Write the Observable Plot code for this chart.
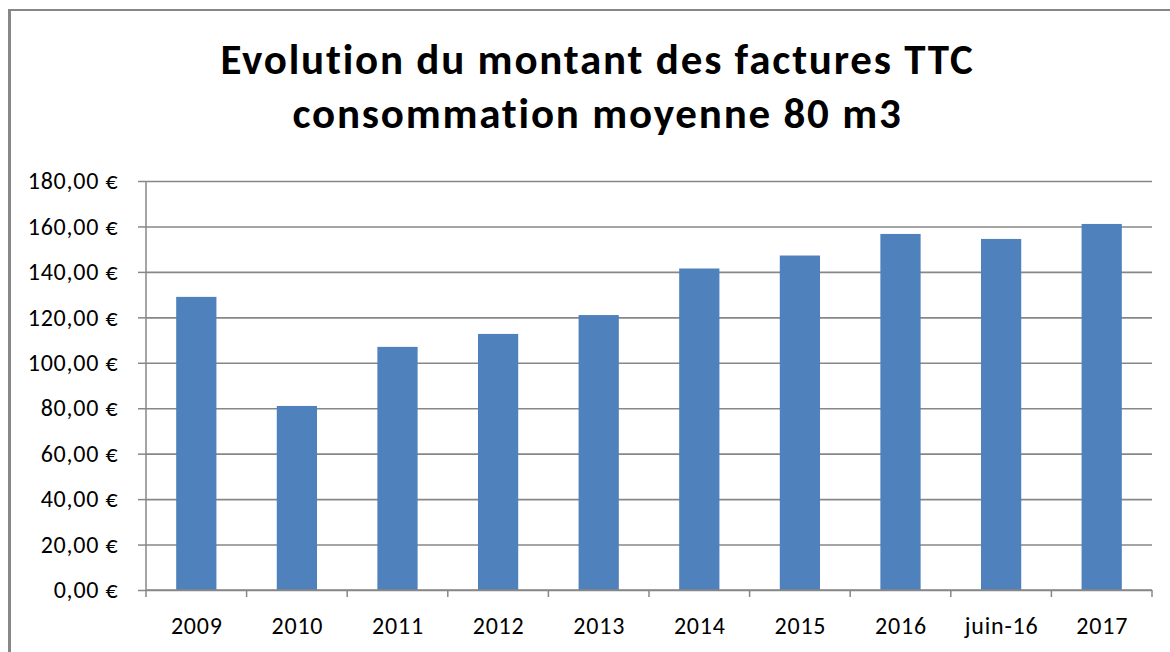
<!DOCTYPE html>
<html>
<head>
<meta charset="utf-8">
<script src="https://cdn.jsdelivr.net/npm/d3@7"></script>
<script src="https://cdn.jsdelivr.net/npm/@observablehq/plot@0.6"></script>
<style>
  html, body { margin: 0; padding: 0; background: #fff; }
  #wrap { position: relative; width: 1170px; height: 652px; overflow: hidden; }
  #frame { position: absolute; left: 8px; top: 9px; width: 1200px; height: 700px;
           border-left: 3px solid #878787; border-top: 2px solid #878787; box-sizing: border-box; }
  #title { position: relative; height: 150px; width: 1195px; text-align: center;
           font-family: Carlito, "Liberation Sans Narrow", "DejaVu Sans Condensed", sans-serif;
           font-weight: bold; font-size: 43px; letter-spacing: 1.8px; line-height: 54px; color: #000;
           padding-top: 33px; box-sizing: border-box; font-variant-ligatures: none; }
  #chart { position: relative; }
  #chart svg text { letter-spacing: 0.8px; font-variant-ligatures: none; }
</style>
</head>
<body>
<div id="wrap">
  <div id="frame"></div>
  <div id="title">Evolution du montant des factures TTC<br>consommation moyenne 80 m3</div>
  <div id="chart"></div>
</div>
<script>
const categories = ["2009", "2010", "2011", "2012", "2013", "2014", "2015", "2016", "juin-16", "2017"];
const values = [129.0, 81.0, 107.0, 112.7, 121.0, 141.5, 147.2, 156.7, 154.5, 161.1];
const yTicks = [0, 20, 40, 60, 80, 100, 120, 140, 160, 180];

const data = categories.map((c, i) => ({category: c, value: values[i]}));
const fmt = d => d.toFixed(2).replace(".", ",") + "\u00a0€";
const font = 'Carlito, "Liberation Sans Narrow", "DejaVu Sans Condensed", sans-serif';

const plot = Plot.plot({
  width: 1170,
  height: 502,
  marginTop: 31,
  marginBottom: 62,
  marginLeft: 146,
  marginRight: 18,
  style: {fontFamily: font, fontSize: "24px", color: "#000", background: "transparent"},
  x: {domain: categories, paddingInner: 0.6, paddingOuter: 0.3, round: false, label: null, axis: null},
  y: {domain: [0, 180], label: null, axis: null},
  marks: [
    Plot.gridY(yTicks, {stroke: "#878787", strokeOpacity: 1, strokeWidth: 1.6}),
    Plot.barY(data, {x: "category", y: "value", fill: "#4F81BD"}),
    Plot.axisY(yTicks, {tickSize: 8, tickPadding: 20, tickFormat: fmt, stroke: "#878787", strokeWidth: 1.5, fill: "#000", fontSize: 24, label: null}),
    Plot.axisX({tickSize: 0, tickPadding: 26, fill: "#000", fontSize: 24, label: null})
  ]
});
document.getElementById("chart").appendChild(plot);

// Axis lines and category boundary ticks, placed with the plot's own scales
const svg = d3.select(plot);
const xs = plot.scale("x"), ys = plot.scale("y");
const step = xs.step;
const x0 = xs.range[0], x1 = xs.range[1];
const yBase = ys.apply(0), yTop = ys.apply(180);
const g = svg.append("g").attr("stroke", "#878787").attr("stroke-width", 1.5);
g.append("line").attr("x1", x0).attr("x2", x0).attr("y1", yTop).attr("y2", yBase);
g.append("line").attr("x1", x0).attr("x2", x1).attr("y1", yBase).attr("y2", yBase);
categories.concat([null]).forEach((c, i) => {
  const xx = x0 + i * step;
  g.append("line").attr("x1", xx).attr("x2", xx).attr("y1", yBase).attr("y2", yBase + 7);
});
</script>
</body>
</html>
